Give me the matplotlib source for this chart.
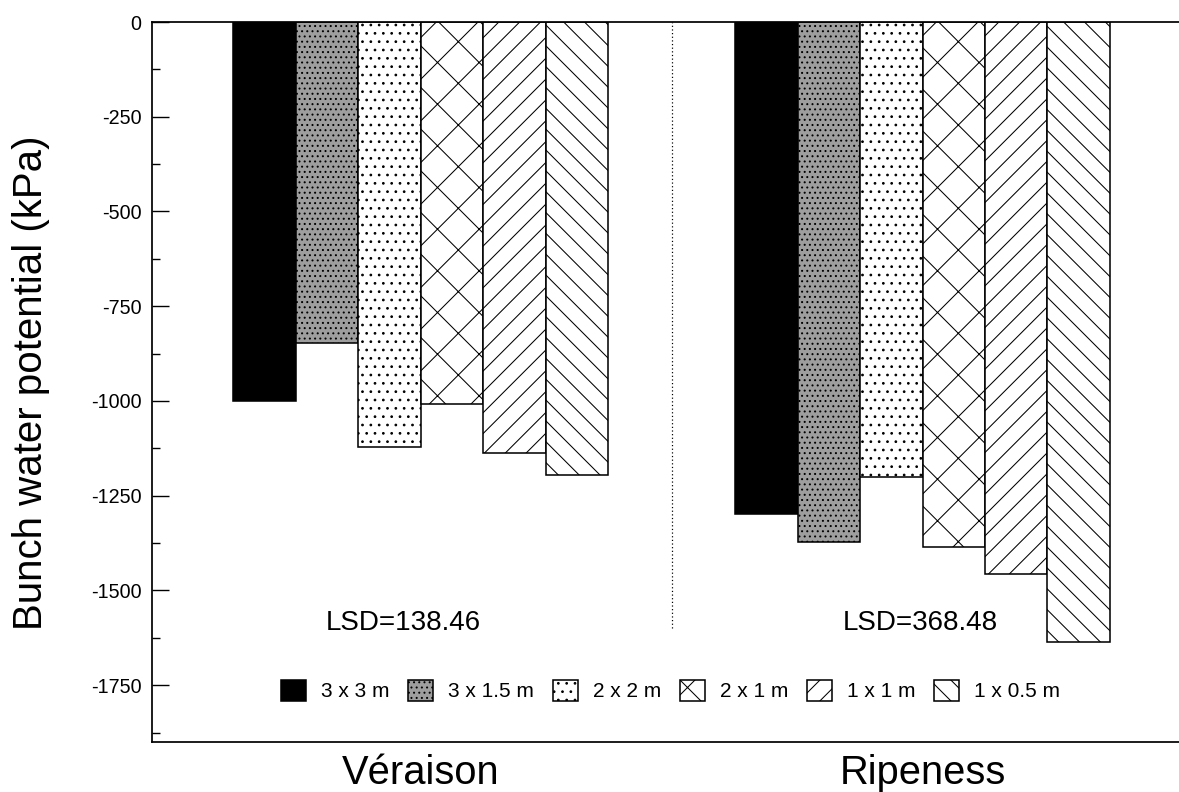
import numpy as np
import matplotlib
matplotlib.use('Agg')
import matplotlib.pyplot as plt
from matplotlib.ticker import MultipleLocator

# data (kPa)
stages = ['Véraison', 'Ripeness']
spacings = ['3 x 3 m', '3 x 1.5 m', '2 x 2 m', '2 x 1 m', '1 x 1 m', '1 x 0.5 m']
veraison = [-1000, -848, -1122, -1008, -1138, -1195]
ripeness = [-1298, -1372, -1200, -1385, -1457, -1636]
lsd = ['LSD=138.46', 'LSD=368.48']

plt.rcParams['font.family'] = ['Liberation Sans', 'DejaVu Sans']
plt.rcParams['axes.unicode_minus'] = False
plt.rcParams['hatch.linewidth'] = 0.3

# hatch density scales with dpi, so draw at 250 dpi on a small canvas
DPI = 250
fig = plt.figure(figsize=(1179 / DPI, 792 / DPI), dpi=DPI)
ax = fig.add_axes([152 / 1179, 50 / 792, 1027 / 1179, 720 / 792])

styles = [dict(facecolor='black', hatch=None),
          dict(facecolor='0.62', hatch='........'),
          dict(facecolor='white', hatch='.....'),
          dict(facecolor='white', hatch='xx'),
          dict(facecolor='white', hatch='////'),
          dict(facecolor='white', hatch='\\\\\\\\')]

vals = np.array([veraison, ripeness])
x = np.arange(len(stages))
w = 0.1245
for i in range(len(spacings)):
    ax.bar(x + (i - 2.5) * w, vals[:, i], width=w, edgecolor='black',
           linewidth=0.45, label=spacings[i], **styles[i])

ax.vlines(0.5, -1600, 0, colors='black', linestyles=(0, (1, 2)), linewidth=0.35)

lsd_x = [-0.034, 0.995]
for i in range(len(lsd)):
    ax.text(lsd_x[i], -1585, lsd[i], ha='center', va='center', fontsize=8)

ax.set_xlim(-0.535, 1.511)
ax.set_ylim(-1900, 0)
ax.set_xticks(x)
ax.set_xticklabels(stages, fontsize=11.5)
ax.tick_params(axis='x', length=0, pad=3.5)
ax.yaxis.set_major_locator(MultipleLocator(250))
ax.yaxis.set_minor_locator(MultipleLocator(125))
ax.tick_params(axis='y', which='major', direction='in', length=4.9, width=0.4,
               labelsize=5.7, pad=3)
ax.tick_params(axis='y', which='minor', direction='in', length=2.3, width=0.4)
ax.set_ylabel('Bunch water potential (kPa)', fontsize=11.6)
ax.yaxis.set_label_coords(-0.099, 0.499)

ax.spines['right'].set_visible(False)
for s in ['left', 'top', 'bottom']:
    ax.spines[s].set_linewidth(0.5)

ax.legend(loc='center', bbox_to_anchor=(0.505, 0.0715), ncol=6, frameon=False,
          fontsize=6.0, handlelength=1.2, handleheight=1.2,
          handletextpad=0.72, columnspacing=0.9)

fig.savefig('out.png', dpi=DPI)
